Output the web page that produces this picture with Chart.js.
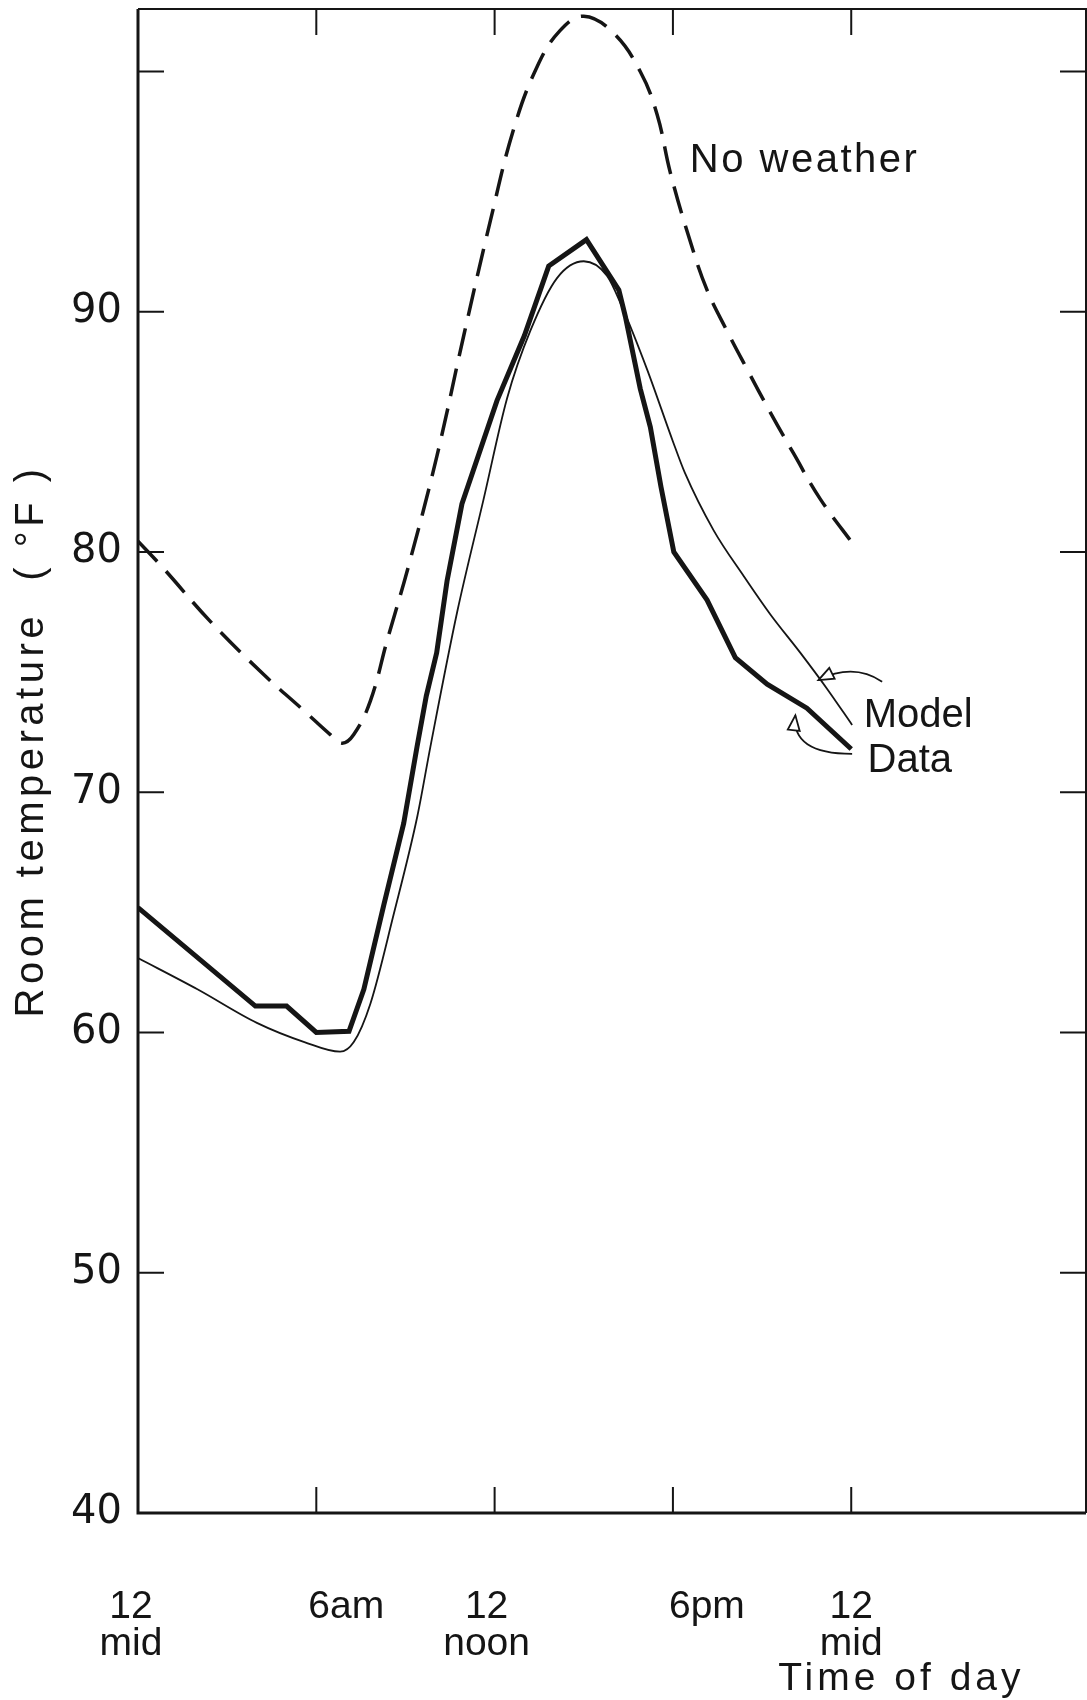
<!DOCTYPE html>
<html>
<head>
<meta charset="utf-8">
<title>Room temperature</title>
<script src="https://cdn.jsdelivr.net/npm/chart.js@4.4.1/dist/chart.umd.min.js"></script>
<style>
  html, body { margin: 0; padding: 0; background: #fff; }
  #wrap { width: 1087px; height: 1700px; position: relative; }
</style>
</head>
<body>
<div id="wrap"><canvas id="chart"></canvas></div>
<script>
// Hours after midnight / room temperature in °F
const dataHours = [0, 3.95, 5.0, 6.0, 7.1, 7.6, 8.27, 8.94, 9.39, 9.7, 10.05, 10.4, 10.9, 12.08, 13.0, 13.82, 15.09, 16.18, 16.4, 16.9, 17.24, 17.6, 18.03, 19.15, 20.1, 21.17, 22.51, 24.0];
const dataTemps = [65.2, 61.1, 61.1, 60.0, 60.05, 61.8, 65.3, 68.7, 71.9, 74.0, 75.8, 78.8, 82.0, 86.3, 89.0, 91.9, 93.0, 90.9, 89.8, 86.8, 85.2, 82.7, 80.0, 78.0, 75.6, 74.5, 73.5, 71.8];

const modelHours = [0, 2.0, 4.0, 5.6, 6.8, 7.26, 7.82, 8.6, 9.4, 9.84, 10.74, 11.63, 12.42, 13.2, 14.1, 15.0, 15.78, 16.29, 17.13, 18.0, 18.4, 19.37, 20.38, 21.28, 22.29, 23.19, 24.03];
const modelTemps = [63.1, 61.8, 60.4, 59.6, 59.2, 59.6, 61.2, 64.9, 69.0, 71.9, 77.5, 82.2, 86.4, 89.2, 91.4, 92.1, 91.5, 90.2, 87.6, 84.6, 83.3, 80.9, 79.0, 77.4, 75.8, 74.3, 72.8];

const noWeatherHours = [0, 0.87, 2.44, 4.23, 5.58, 6.47, 6.87, 7.26, 7.82, 8.38, 9.1, 10.06, 10.96, 11.86, 12.64, 13.43, 14.2, 15.0, 16.0, 16.9, 17.47, 17.91, 18.59, 19.15, 19.82, 20.5, 21.28, 22.06, 22.96, 24.14];
const noWeatherTemps = [80.45, 79.3, 77.1, 74.9, 73.4, 72.4, 72.04, 72.4, 73.8, 76.3, 79.4, 84.0, 89.0, 93.8, 97.6, 100.2, 101.7, 102.3, 101.6, 100.0, 98.2, 95.8, 92.9, 90.9, 89.2, 87.6, 85.8, 84.1, 82.2, 80.2];

const xTickValues = [0, 6, 12, 18, 24];
const xTickLabels = [['12', 'mid'], ['6am'], ['12', 'noon'], ['6pm'], ['12', 'mid']];
const yTickValues = [50, 60, 70, 80, 90, 100];
const xTitle = 'Time of day';
const yTitle = 'Room temperature  ( °F )';

// text notes next to the curves, anchored in data units (left, baseline)
const notes = [
    { text: 'No weather', x: 18.57, y: 95.8 },
    { text: 'Model', x: 24.42, y: 72.72 },
    { text: 'Data', x: 24.55, y: 70.85 }
];
// curved pointers: tail, control, head (data units)
const pointers = [
    [[25.04, 74.6], [24.08, 75.4], [22.9, 74.67]],
    [[24.03, 71.6], [21.98, 71.6], [22.12, 73.2]]
];

const toPoints = (xs, ys) => xs.map((x, i) => ({ x, y: ys[i] }));

const INK = '#151515';
const NUM_FONT = '"DejaVu Sans", sans-serif';
const TXT_FONT = '"Liberation Sans", Arial, sans-serif';

const decorPlugin = {
    id: 'decor',
    afterDraw(chart) {
        const { ctx, chartArea: a, scales: { x, y } } = chart;
        ctx.save();
        ctx.strokeStyle = INK;
        ctx.fillStyle = INK;

        // frame: heavier left / bottom axes
        ctx.lineWidth = 3;
        ctx.beginPath();
        ctx.moveTo(a.left, a.top);
        ctx.lineTo(a.left, a.bottom);
        ctx.lineTo(a.right, a.bottom);
        ctx.stroke();
        ctx.lineWidth = 2;
        ctx.beginPath();
        ctx.moveTo(a.left, a.top);
        ctx.lineTo(a.right, a.top);
        ctx.lineTo(a.right, a.bottom);
        ctx.stroke();

        // inward ticks on all four sides
        const len = 26;
        ctx.lineWidth = 2;
        ctx.beginPath();
        xTickValues.forEach(v => {
            if (v === 0) return;
            const px = x.getPixelForValue(v);
            ctx.moveTo(px, a.bottom); ctx.lineTo(px, a.bottom - len);
            ctx.moveTo(px, a.top); ctx.lineTo(px, a.top + len);
        });
        yTickValues.forEach(v => {
            const py = y.getPixelForValue(v);
            ctx.moveTo(a.left, py); ctx.lineTo(a.left + len, py);
            ctx.moveTo(a.right, py); ctx.lineTo(a.right - len, py);
        });
        ctx.stroke();

        // x tick labels (6am / 6pm sit right of their ticks in the original)
        const nudge = [-7, 30, -8, 34, 0];
        ctx.font = '39px ' + TXT_FONT;
        ctx.textAlign = 'center';
        ctx.textBaseline = 'alphabetic';
        xTickValues.forEach((v, i) => {
            const px = x.getPixelForValue(v) + nudge[i];
            xTickLabels[i].forEach((line, j) => {
                ctx.fillText(line, px, a.bottom + 105 + j * 37);
            });
        });

        // axis titles
        ctx.letterSpacing = '4px';
        ctx.textAlign = 'left';
        ctx.fillText(xTitle, x.getPixelForValue(24) - 73, a.bottom + 177);

        ctx.save();
        ctx.letterSpacing = '4.5px';
        ctx.font = '40px ' + TXT_FONT;
        ctx.translate(43, (a.top + a.bottom) / 2 - 20);
        ctx.rotate(-Math.PI / 2);
        ctx.textAlign = 'center';
        ctx.fillText(yTitle, 0, 0);
        ctx.restore();

        // notes
        ctx.font = '40px ' + TXT_FONT;
        ctx.textAlign = 'left';
        notes.forEach((n, i) => {
            ctx.letterSpacing = i === 0 ? '2.5px' : '0px';
            ctx.fillText(n.text, x.getPixelForValue(n.x), y.getPixelForValue(n.y));
        });
        ctx.letterSpacing = '0px';

        // curved pointers with hollow heads
        ctx.lineWidth = 1.8;
        pointers.forEach(p => {
            const [t, c, h] = p.map(([hx, hy]) => [x.getPixelForValue(hx), y.getPixelForValue(hy)]);
            ctx.beginPath();
            ctx.moveTo(t[0], t[1]);
            ctx.quadraticCurveTo(c[0], c[1], h[0], h[1]);
            ctx.stroke();
            const ang = Math.atan2(h[1] - c[1], h[0] - c[0]);
            const hl = 15, hw = 6;
            const bx = h[0] - hl * Math.cos(ang), by = h[1] - hl * Math.sin(ang);
            ctx.beginPath();
            ctx.moveTo(h[0], h[1]);
            ctx.lineTo(bx + hw * Math.sin(ang), by - hw * Math.cos(ang));
            ctx.lineTo(bx - hw * Math.sin(ang), by + hw * Math.cos(ang));
            ctx.closePath();
            ctx.fillStyle = '#fff';
            ctx.fill();
            ctx.stroke();
            ctx.fillStyle = INK;
        });

        ctx.restore();
    }
};

new Chart(document.getElementById('chart'), {
    type: 'line',
    data: {
        datasets: [
            {
                label: 'No weather',
                data: toPoints(noWeatherHours, noWeatherTemps),
                borderColor: INK,
                borderWidth: 3.5,
                borderDash: [28, 13],
                tension: 0.4,
                pointRadius: 0
            },
            {
                label: 'Model',
                data: toPoints(modelHours, modelTemps),
                borderColor: INK,
                borderWidth: 1.8,
                cubicInterpolationMode: 'monotone',
                pointRadius: 0
            },
            {
                label: 'Data',
                data: toPoints(dataHours, dataTemps),
                borderColor: INK,
                borderWidth: 5,
                tension: 0,
                pointRadius: 0
            },
            {
                // pale core of the double-stroked data line
                label: 'Data core',
                data: toPoints(dataHours, dataTemps),
                borderColor: '#8c8c8c',
                borderWidth: 1.1,
                tension: 0,
                pointRadius: 0
            }
        ]
    },
    options: {
        responsive: true,
        maintainAspectRatio: false,
        animation: false,
        layout: { padding: { top: 9, right: 1, bottom: 187, left: 0 } },
        plugins: {
            legend: { display: false },
            tooltip: { enabled: false }
        },
        scales: {
            x: { type: 'linear', min: 0, max: 31.9, display: false },
            y: {
                min: 40,
                max: 102.6,
                afterFit: s => { s.width = 138; s.paddingTop = 0; s.paddingBottom = 0; },
                grid: { display: false },
                border: { display: false },
                ticks: {
                    stepSize: 10,
                    includeBounds: false,
                    padding: 8,
                    color: INK,
                    font: { family: NUM_FONT, size: 40 },
                    callback: v => (v === 100 ? '' : v)
                }
            }
        }
    },
    plugins: [decorPlugin]
});
</script>
</body>
</html>
